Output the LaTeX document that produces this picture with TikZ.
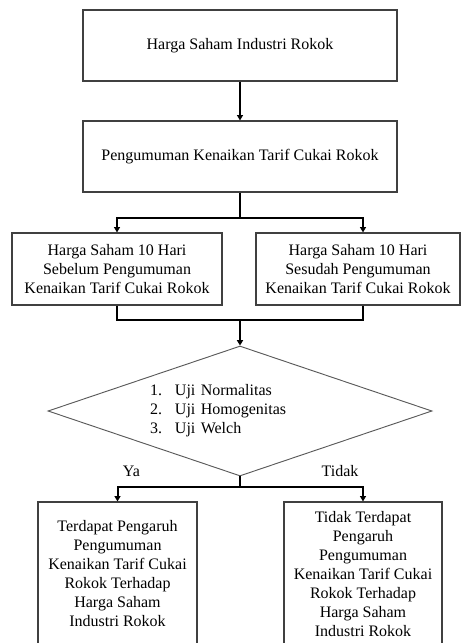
\documentclass[tikz,border=0pt]{standalone}
\usepackage{fontspec}
\setmainfont{Liberation Serif}
\usepackage{xcolor}
\usepackage{tikz}
\usetikzlibrary{shapes.geometric, arrows.meta, positioning}
\definecolor{boxgray}{RGB}{64, 64, 64}
\definecolor{diagray}{RGB}{90, 90, 90}
\newcommand{\ujiline}[2]{\makebox[18.75pt][l]{#1.}#2}

\begin{document}
\begin{tikzpicture}[
  x=0.75pt, y=-0.75pt,
  box/.style={draw=boxgray, line width=0.9pt, rectangle, align=center, inner sep=2pt, font=\fontsize{12}{14.25}\selectfont},
  testbox/.style={draw=diagray, line width=0.7pt, diamond, aspect=2.95, inner sep=0pt, text width=135pt, align=left, font=\fontsize{12}{14.25}\selectfont},
  branchlabel/.style={inner sep=0pt, font=\fontsize{12}{14.25}\selectfont},
  link/.style={line width=1.5pt, black},
  arrow/.style={-{Triangle[length=4pt, width=4.5pt]}, line width=1.5pt, black}
]
\useasboundingbox (0,0) rectangle (462,643);
\clip (0,0) rectangle (462,643);

% Input Layer
\node[box, minimum width=235.5pt, minimum height=53.25pt] (saham) at (240, 45.5) {Harga Saham Industri Rokok};
\node[box, minimum width=235.5pt, minimum height=53.25pt] (umum) at (240, 156.5) {Pengumuman Kenaikan Tarif Cukai Rokok};

\draw[arrow] (saham.south) -- (umum.north);

% Period Layer
\node[box, minimum width=157.5pt, minimum height=54pt] (sebelum) at (117, 269) {Harga Saham 10 Hari\\Sebelum Pengumuman\\Kenaikan Tarif Cukai Rokok};
\node[box, minimum width=153pt, minimum height=54pt] (sesudah) at (358, 269) {Harga Saham 10 Hari\\Sesudah Pengumuman\\Kenaikan Tarif Cukai Rokok};

\coordinate (splitTop) at (240, 218);
\draw[link] (umum.south) -- (splitTop);
\draw[arrow] (splitTop) -| (sebelum.north);
\draw[arrow] (splitTop) -| ([xshift=3.75pt]sesudah.north);

% Test Layer
\node[testbox, minimum width=288pt, minimum height=97.5pt] (uji) at (240, 411) {\ujiline{1}{Uji Normalitas}\\\ujiline{2}{Uji Homogenitas}\\\ujiline{3}{Uji Welch}};

\coordinate (mergeMid) at (240, 320);
\draw[link] (sebelum.south) |- (mergeMid);
\draw[link] ([xshift=3.75pt]sesudah.south) |- (mergeMid);
\draw[arrow] (mergeMid) -- (uji.north);

% Result Layer
\node[branchlabel] (yaLabel) at (131.5, 471) {Ya};
\node[branchlabel] (tidakLabel) at (340, 471) {Tidak};

\node[box, minimum width=119.25pt, minimum height=108pt] (pengaruh) at (117.5, 574) {Terdapat Pengaruh\\Pengumuman\\Kenaikan Tarif Cukai\\Rokok Terhadap\\Harga Saham\\Industri Rokok};
\node[box, minimum width=118.5pt, minimum height=108pt] (tanpa) at (363, 574) {Tidak Terdapat\\Pengaruh\\Pengumuman\\Kenaikan Tarif Cukai\\Rokok Terhadap\\Harga Saham\\Industri Rokok};

\coordinate (splitBot) at (240, 487);
\draw[link] (uji.south) -- (splitBot);
\draw[arrow] (splitBot) -| (pengaruh.north);
\draw[arrow] (splitBot) -| (tanpa.north);

\end{tikzpicture}
\end{document}
